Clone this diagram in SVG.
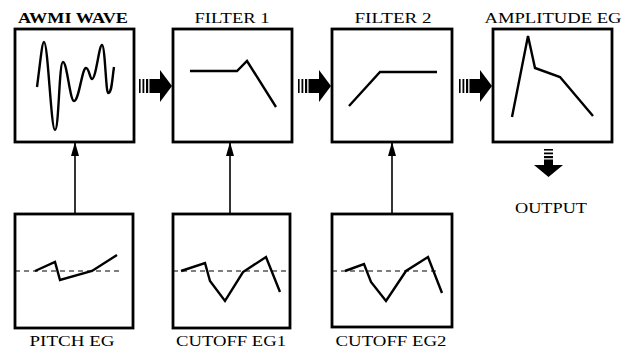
<svg xmlns="http://www.w3.org/2000/svg" width="625" height="359" viewBox="0 0 625 359">
<style>
.box{fill:#fff;stroke:#000;stroke-width:2.8}
.wave{fill:none;stroke:#000;stroke-width:2.4;stroke-linejoin:miter}
.dash{stroke:#000;stroke-width:1;stroke-dasharray:5 4}
.lbl{font-family:"Liberation Serif","Times New Roman",serif;font-size:14px;fill:#000;text-anchor:middle}
.top{font-size:15px}
.conn{stroke:#000;stroke-width:1.6;fill:none}
</style>
<defs>
<marker id="ah" markerWidth="14" markerHeight="8" refX="14" refY="4" orient="auto" markerUnits="userSpaceOnUse" viewBox="0 0 14 8">
<path d="M0,0 L14,4 L0,8 Z" fill="#000"/>
</marker>
<g id="fat">
<rect x="0" y="9" width="1.6" height="14" fill="#000"/>
<rect x="3.5" y="9" width="1.8" height="14" fill="#000"/>
<rect x="7" y="9" width="2.2" height="14" fill="#000"/>
<path d="M10.5,9 L21,9 L21,0 L33,16 L21,32 L21,23 L10.5,23 Z" fill="#000"/>
</g>
</defs>

<g id="connectors">
<line class="conn" x1="75" y1="214" x2="75" y2="142" marker-end="url(#ah)"/>
<line class="conn" x1="230" y1="214" x2="230" y2="142" marker-end="url(#ah)"/>
<line class="conn" x1="392" y1="214" x2="392" y2="142" marker-end="url(#ah)"/>
<use href="#fat" x="139" y="70"/>
<use href="#fat" x="298" y="70"/>
<use href="#fat" x="459" y="70"/>
<g id="out-arrow">
<rect x="544" y="149" width="9" height="1.6" fill="#000"/>
<rect x="544" y="152.5" width="9" height="1.8" fill="#000"/>
<rect x="544" y="156" width="9" height="2.2" fill="#000"/>
<path d="M544,159.5 L553,159.5 L553,165 L563,165 L548.5,177 L534,165 L544,165 Z" fill="#000"/>
</g>
</g>

<g id="awmi-wave">
<rect class="box" x="15" y="29" width="119" height="113"/>
<path class="wave" d="M37,87 C40,65 42,42 44,42 C48,42 51,130 55,130 C59,130 59,62 63,62 C67,62 70,101 74,101 C79,101 82,68 86,68 C89,68 90,79 92,79 C96,79 99,45 102,45 C105,45 106,93 108,93 C112,93 112,80 114,67"/>
<text class="lbl top" x="73" y="23" font-weight="bold" textLength="110" lengthAdjust="spacingAndGlyphs">AWMI WAVE</text>
</g>

<g id="filter1">
<rect class="box" x="173" y="29" width="119" height="113"/>
<path class="wave" d="M190,71 L237,71 L247,61 L276,107"/>
<text class="lbl top" x="232" y="23" textLength="75" lengthAdjust="spacingAndGlyphs">FILTER 1</text>
</g>

<g id="filter2">
<rect class="box" x="332" y="29" width="120" height="113"/>
<path class="wave" d="M349,106 L380,72 L437,72"/>
<text class="lbl top" x="393" y="23" textLength="77" lengthAdjust="spacingAndGlyphs">FILTER 2</text>
</g>

<g id="amplitude-eg">
<rect class="box" x="493" y="29" width="119" height="113"/>
<path class="wave" d="M512,117 L528,36 L535,68 L560,77 L593,116"/>
<text class="lbl top" x="553" y="23" textLength="137" lengthAdjust="spacingAndGlyphs">AMPLITUDE EG</text>
</g>

<g id="output">
<text class="lbl" x="551" y="213" textLength="72" lengthAdjust="spacingAndGlyphs">OUTPUT</text>
</g>

<g id="pitch-eg">
<rect class="box" x="15" y="214" width="118" height="114"/>
<line class="dash" x1="15" y1="271" x2="119" y2="271"/>
<path class="wave" d="M35,271 L55,262 L60,280 L92,271 L117,255"/>
<text class="lbl" x="72" y="346" textLength="85" lengthAdjust="spacingAndGlyphs">PITCH EG</text>
</g>

<g id="cutoff-eg1">
<rect class="box" x="173" y="214" width="117" height="114"/>
<line class="dash" x1="173" y1="271" x2="290" y2="271"/>
<path class="wave" d="M181,271 L205,263 L210,281 L225,301 L243,272 L266,257 L280,292"/>
<text class="lbl" x="231" y="346" textLength="110" lengthAdjust="spacingAndGlyphs">CUTOFF EG1</text>
</g>

<g id="cutoff-eg2">
<rect class="box" x="332" y="214" width="120" height="113"/>
<line class="dash" x1="332" y1="271" x2="440" y2="271"/>
<path class="wave" d="M345,271 L364,264 L371,282 L386,301 L406,271 L428,257 L442,293"/>
<text class="lbl" x="391" y="346" textLength="111" lengthAdjust="spacingAndGlyphs">CUTOFF EG2</text>
</g>
</svg>
